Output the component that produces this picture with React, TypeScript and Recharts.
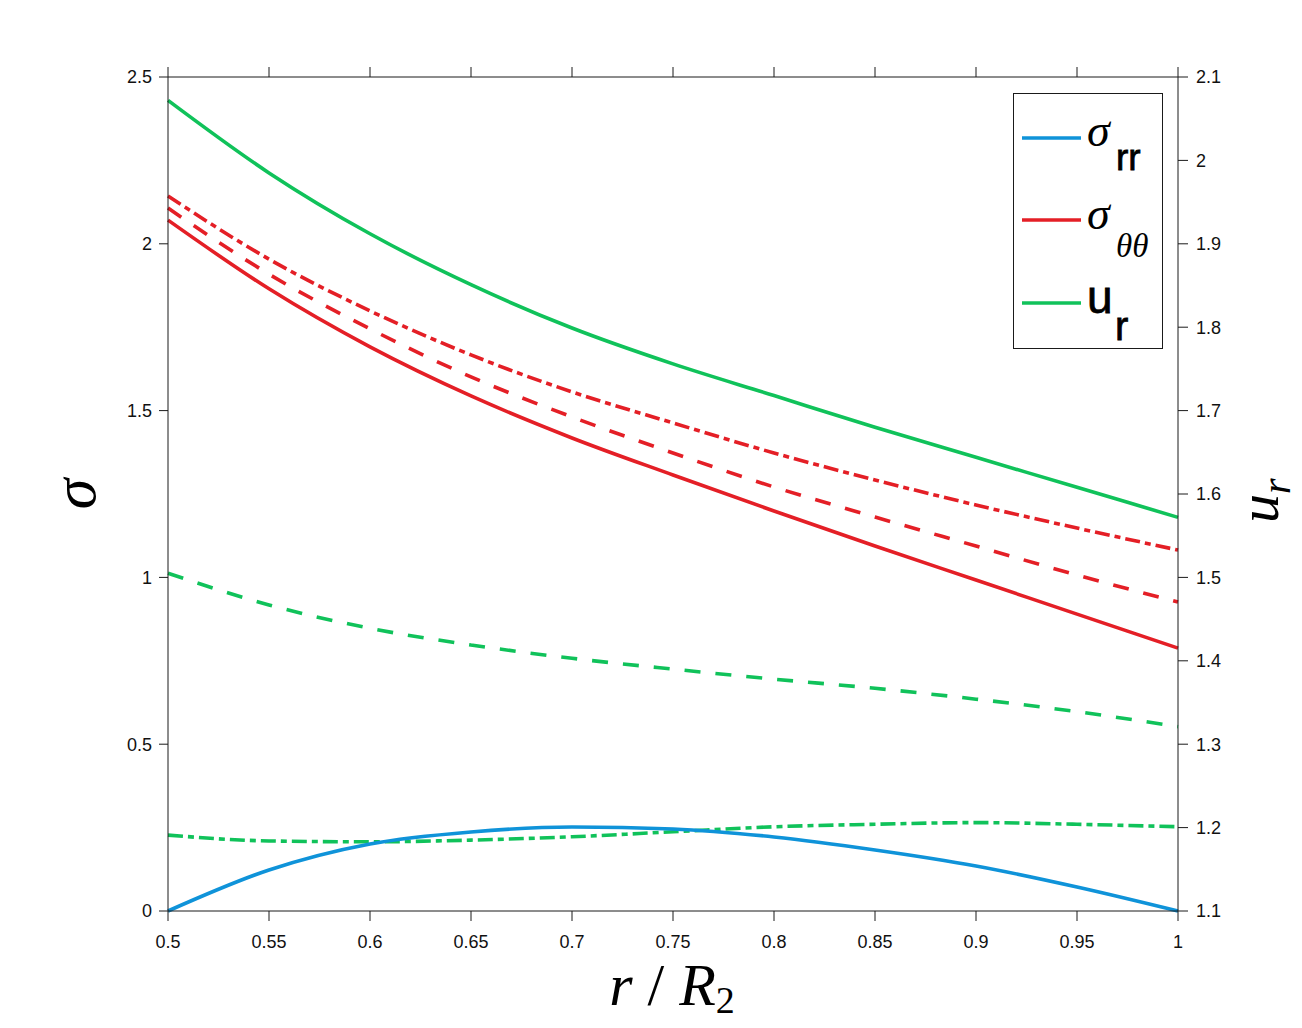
import React from 'react';
import { LineChart, Line, XAxis, YAxis, Legend, Label } from 'recharts';

// radius r / R2
const rValues = [0.5, 0.55, 0.6, 0.65, 0.7, 0.75, 0.8, 0.85, 0.9, 0.95, 1];

// stresses (left axis)
const sigmaRR = [0, 0.123, 0.201, 0.237, 0.252, 0.246, 0.222, 0.183, 0.135, 0.072, 0];
const sigmaTTSolid = [2.071, 1.865, 1.691, 1.544, 1.418, 1.307, 1.199, 1.094, 0.992, 0.89, 0.788];
const sigmaTTDashed = [2.107, 1.909, 1.745, 1.601, 1.481, 1.373, 1.271, 1.181, 1.094, 1.007, 0.926];
const sigmaTTDashDot = [2.143, 1.954, 1.799, 1.667, 1.556, 1.463, 1.373, 1.292, 1.217, 1.148, 1.082];

// displacement (right axis)
const uRSolid = [2.072, 1.985, 1.912, 1.851, 1.799, 1.756, 1.718, 1.68, 1.644, 1.608, 1.572];
const uRDashed = [1.505, 1.467, 1.439, 1.419, 1.403, 1.39, 1.378, 1.367, 1.354, 1.339, 1.321];
const uRDashDot = [1.191, 1.184, 1.183, 1.185, 1.189, 1.195, 1.201, 1.204, 1.206, 1.204, 1.201];

const xTicks = [0.5, 0.55, 0.6, 0.65, 0.7, 0.75, 0.8, 0.85, 0.9, 0.95, 1];
const sigmaTicks = [0, 0.5, 1, 1.5, 2, 2.5];
const uTicks = [1.1, 1.2, 1.3, 1.4, 1.5, 1.6, 1.7, 1.8, 1.9, 2, 2.1];

const data = rValues.map((r, i) => ({
    r,
    srr: sigmaRR[i],
    stt1: sigmaTTSolid[i],
    stt2: sigmaTTDashed[i],
    stt3: sigmaTTDashDot[i],
    ur1: uRSolid[i],
    ur2: uRDashed[i],
    ur3: uRDashDot[i],
}));

const blue = '#0f93d9';
const red = '#e41f26';
const green = '#10c25a';
const axisColor = '#1a1a1a';
const lw = 3.6;
const dashed = '16 15';
const dashDot = '15 5 6 5';

const sans = '"Liberation Sans", Arial, Helvetica, sans-serif';
const serif = '"Liberation Serif", "DejaVu Serif", "Times New Roman", serif';
const tickStyle = { fill: '#111', fontSize: 18, fontFamily: sans };

const LegendBox = () => (
    <svg width={150} height={256} style={{ display: 'block' }}>
        <rect x={0.5} y={0.5} width={149} height={255} fill="#fff" stroke={axisColor} strokeWidth={1} />
        <line x1={9} x2={68} y1={45} y2={45} stroke={blue} strokeWidth={lw} />
        <text x={74} y={53} fontFamily={serif} fontStyle="italic" fontSize={46} fill="#000">σ</text>
        <text x={103} y={77} fontFamily={sans} fontSize={37} fill="#000" stroke="#000" strokeWidth={0.8}>rr</text>
        <line x1={9} x2={68} y1={127} y2={127} stroke={red} strokeWidth={lw} />
        <text x={74} y={136} fontFamily={serif} fontStyle="italic" fontSize={46} fill="#000">σ</text>
        <text x={103} y={164} fontFamily={serif} fontStyle="italic" fontSize={33} fill="#000">θθ</text>
        <line x1={9} x2={68} y1={210} y2={210} stroke={green} strokeWidth={lw} />
        <text x={74} y={220} fontFamily={sans} fontSize={46} fill="#000" stroke="#000" strokeWidth={0.8}>u</text>
        <text x={102} y={247} fontFamily={sans} fontSize={40} fill="#000" stroke="#000" strokeWidth={0.8}>r</text>
    </svg>
);

const SigmaLabel = () => (
    <text x={95} y={494} transform="rotate(-90, 95, 494)" textAnchor="middle"
        fontFamily={serif} fontStyle="italic" fontSize={62} fill="#000">σ</text>
);

const ULabel = () => (
    <text x={1278} y={523} transform="rotate(-90, 1278, 523)" fontFamily={serif} fontStyle="italic" fill="#000">
        <tspan fontSize={58}>u</tspan>
        <tspan fontSize={40} dy={12}>r</tspan>
    </text>
);

const RLabel = () => (
    <text x={672} y={1005} textAnchor="middle" fontFamily={serif} fill="#000" fontSize={60}>
        <tspan fontStyle="italic">r</tspan>
        <tspan> / </tspan>
        <tspan fontStyle="italic">R</tspan>
        <tspan fontSize={38} dy={8}>2</tspan>
    </text>
);

const App = () => {
    return (
        <div style={{ position: 'absolute', left: 0, top: 0, width: 1302, height: 1028, background: '#fff' }}>
            <LineChart width={1302} height={1028} data={data} margin={{ top: 76, right: 0, left: 0, bottom: 0 }}>
                <XAxis
                    dataKey="r"
                    type="number"
                    domain={[0.5, 1]}
                    ticks={xTicks}
                    interval={0}
                    height={117}
                    tickSize={10}
                    tickMargin={14}
                    tick={tickStyle}
                    stroke={axisColor}
                >
                    <Label content={RLabel} />
                </XAxis>
                <XAxis
                    xAxisId="top"
                    orientation="top"
                    dataKey="r"
                    type="number"
                    domain={[0.5, 1]}
                    ticks={xTicks}
                    interval={0}
                    height={1}
                    tickSize={10}
                    tickFormatter={() => ''}
                    stroke={axisColor}
                />
                <YAxis
                    yAxisId="left"
                    type="number"
                    domain={[0, 2.5]}
                    ticks={sigmaTicks}
                    interval={0}
                    width={168}
                    tickSize={9}
                    tickMargin={7}
                    tick={tickStyle}
                    stroke={axisColor}
                >
                    <Label content={SigmaLabel} />
                </YAxis>
                <YAxis
                    yAxisId="right"
                    orientation="right"
                    type="number"
                    domain={[1.1, 2.1]}
                    ticks={uTicks}
                    interval={0}
                    width={124}
                    tickSize={10}
                    tickMargin={8}
                    tick={tickStyle}
                    stroke={axisColor}
                >
                    <Label content={ULabel} />
                </YAxis>
                <Legend
                    layout="horizontal"
                    align="center"
                    verticalAlign="middle"
                    width={150}
                    height={256}
                    wrapperStyle={{ left: 1013, top: 93, width: 150, height: 256 }}
                    content={LegendBox}
                />
                <Line yAxisId="right" dataKey="ur1" type="monotone" stroke={green} strokeWidth={lw} dot={false} isAnimationActive={false} />
                <Line yAxisId="right" dataKey="ur2" type="monotone" stroke={green} strokeWidth={lw} strokeDasharray={dashed} dot={false} isAnimationActive={false} />
                <Line yAxisId="right" dataKey="ur3" type="monotone" stroke={green} strokeWidth={lw} strokeDasharray={dashDot} dot={false} isAnimationActive={false} />
                <Line yAxisId="left" dataKey="stt1" type="monotone" stroke={red} strokeWidth={lw} dot={false} isAnimationActive={false} />
                <Line yAxisId="left" dataKey="stt2" type="monotone" stroke={red} strokeWidth={lw} strokeDasharray={dashed} dot={false} isAnimationActive={false} />
                <Line yAxisId="left" dataKey="stt3" type="monotone" stroke={red} strokeWidth={lw} strokeDasharray={dashDot} dot={false} isAnimationActive={false} />
                <Line yAxisId="left" dataKey="srr" type="monotone" stroke={blue} strokeWidth={lw} dot={false} isAnimationActive={false} />
            </LineChart>
        </div>
    );
};

export default App;
